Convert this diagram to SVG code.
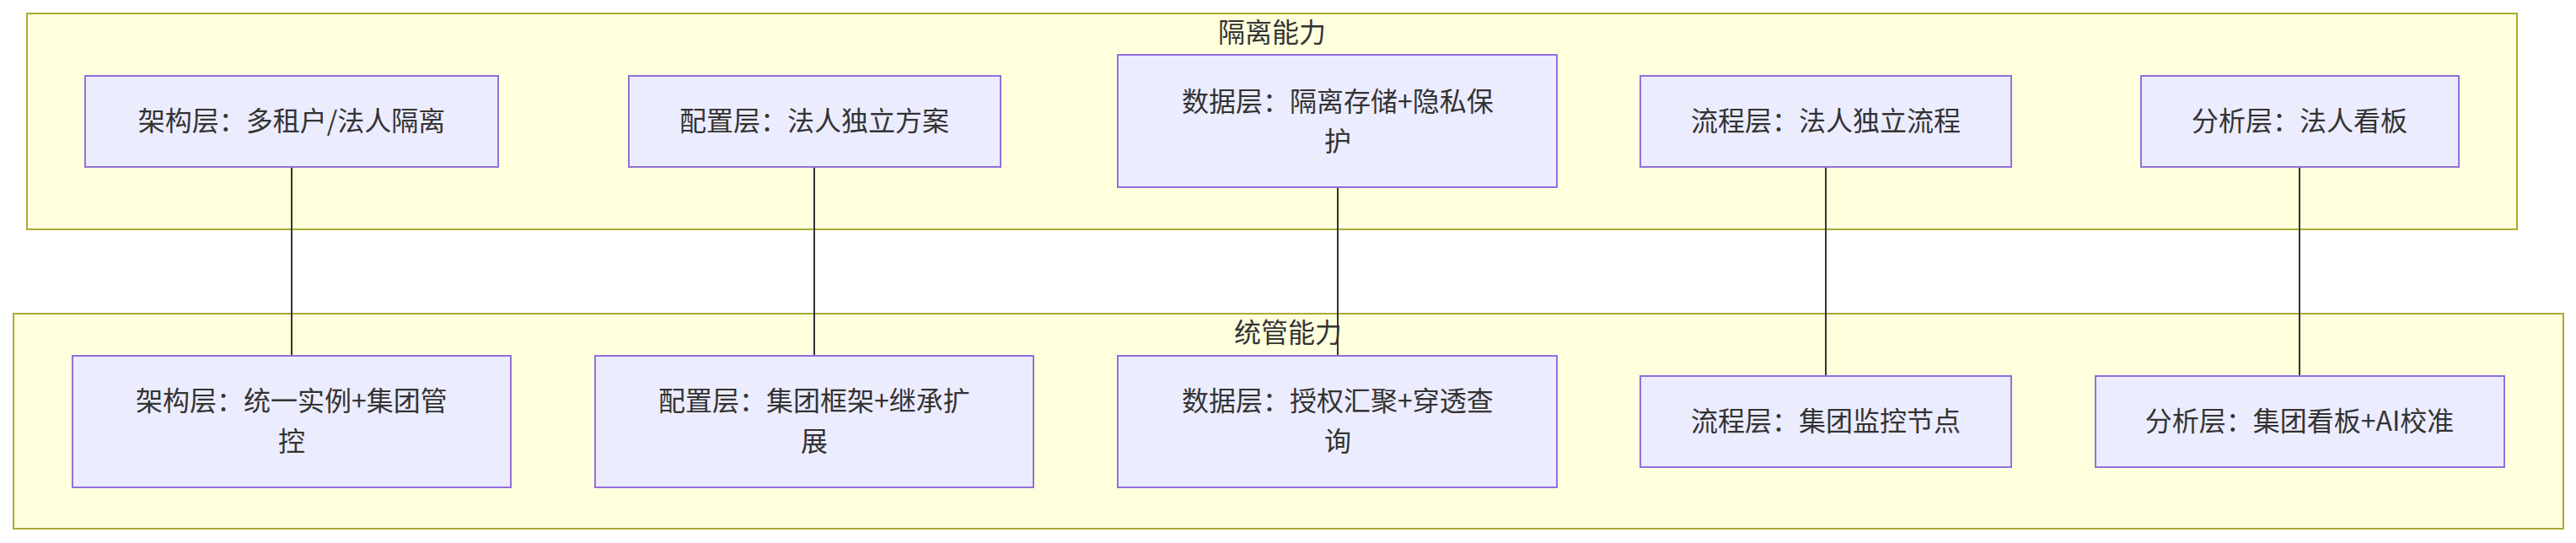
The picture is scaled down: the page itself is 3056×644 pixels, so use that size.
<svg xmlns="http://www.w3.org/2000/svg" width="3056" height="644" viewBox="0 0 3056 644">
<style>
.cl{fill:#ffffde;stroke:#aaaa33;stroke-width:2}
.nd{fill:#ececff;stroke:#9370db;stroke-width:2}
.t{font-family:"Noto Sans CJK SC","Liberation Sans",sans-serif;font-size:32px;fill:#333;text-anchor:middle}
.e{stroke:#333;stroke-width:2;fill:none}
</style>
<rect width="3056" height="644" fill="#fff"/>
<g id="cluster-iso"><rect class="cl" x="32" y="16" width="2954" height="256"/><text class="t" x="1509" y="50">隔离能力</text></g>
<g id="cluster-gov"><rect class="cl" x="16" y="372" width="3025" height="255"/><text class="t" x="1528" y="406">统管能力</text></g>
<g id="connectors">
<line class="e" x1="346" y1="198" x2="346" y2="422"/>
<line class="e" x1="966" y1="198" x2="966" y2="422"/>
<line class="e" x1="1587" y1="222" x2="1587" y2="422"/>
<line class="e" x1="2166" y1="198" x2="2166" y2="446"/>
<line class="e" x1="2728" y1="198" x2="2728" y2="446"/>
</g>
<g id="a1"><rect class="nd" x="101" y="90" width="490" height="108"/><text class="t" x="346" y="155">架构层：多租户/法人隔离</text></g>
<g id="a2"><rect class="nd" x="746" y="90" width="441" height="108"/><text class="t" x="966" y="155">配置层：法人独立方案</text></g>
<g id="a3"><rect class="nd" x="1326" y="65" width="521" height="157"/><text class="t" x="1587" y="132">数据层：隔离存储+隐私保</text><text class="t" x="1587" y="179">护</text></g>
<g id="a4"><rect class="nd" x="1946" y="90" width="440" height="108"/><text class="t" x="2166" y="155">流程层：法人独立流程</text></g>
<g id="a5"><rect class="nd" x="2540" y="90" width="377" height="108"/><text class="t" x="2728" y="155">分析层：法人看板</text></g>
<g id="b1"><rect class="nd" x="86" y="422" width="520" height="156"/><text class="t" x="346" y="487">架构层：统一实例+集团管</text><text class="t" x="346" y="535">控</text></g>
<g id="b2"><rect class="nd" x="706" y="422" width="520" height="156"/><text class="t" x="966" y="487">配置层：集团框架+继承扩</text><text class="t" x="966" y="535">展</text></g>
<g id="b3"><rect class="nd" x="1326" y="422" width="521" height="156"/><text class="t" x="1587" y="487">数据层：授权汇聚+穿透查</text><text class="t" x="1587" y="535">询</text></g>
<g id="b4"><rect class="nd" x="1946" y="446" width="440" height="108"/><text class="t" x="2166" y="511">流程层：集团监控节点</text></g>
<g id="b5"><rect class="nd" x="2486" y="446" width="485" height="108"/><text class="t" x="2728" y="511">分析层：集团看板+AI校准</text></g>
</svg>
